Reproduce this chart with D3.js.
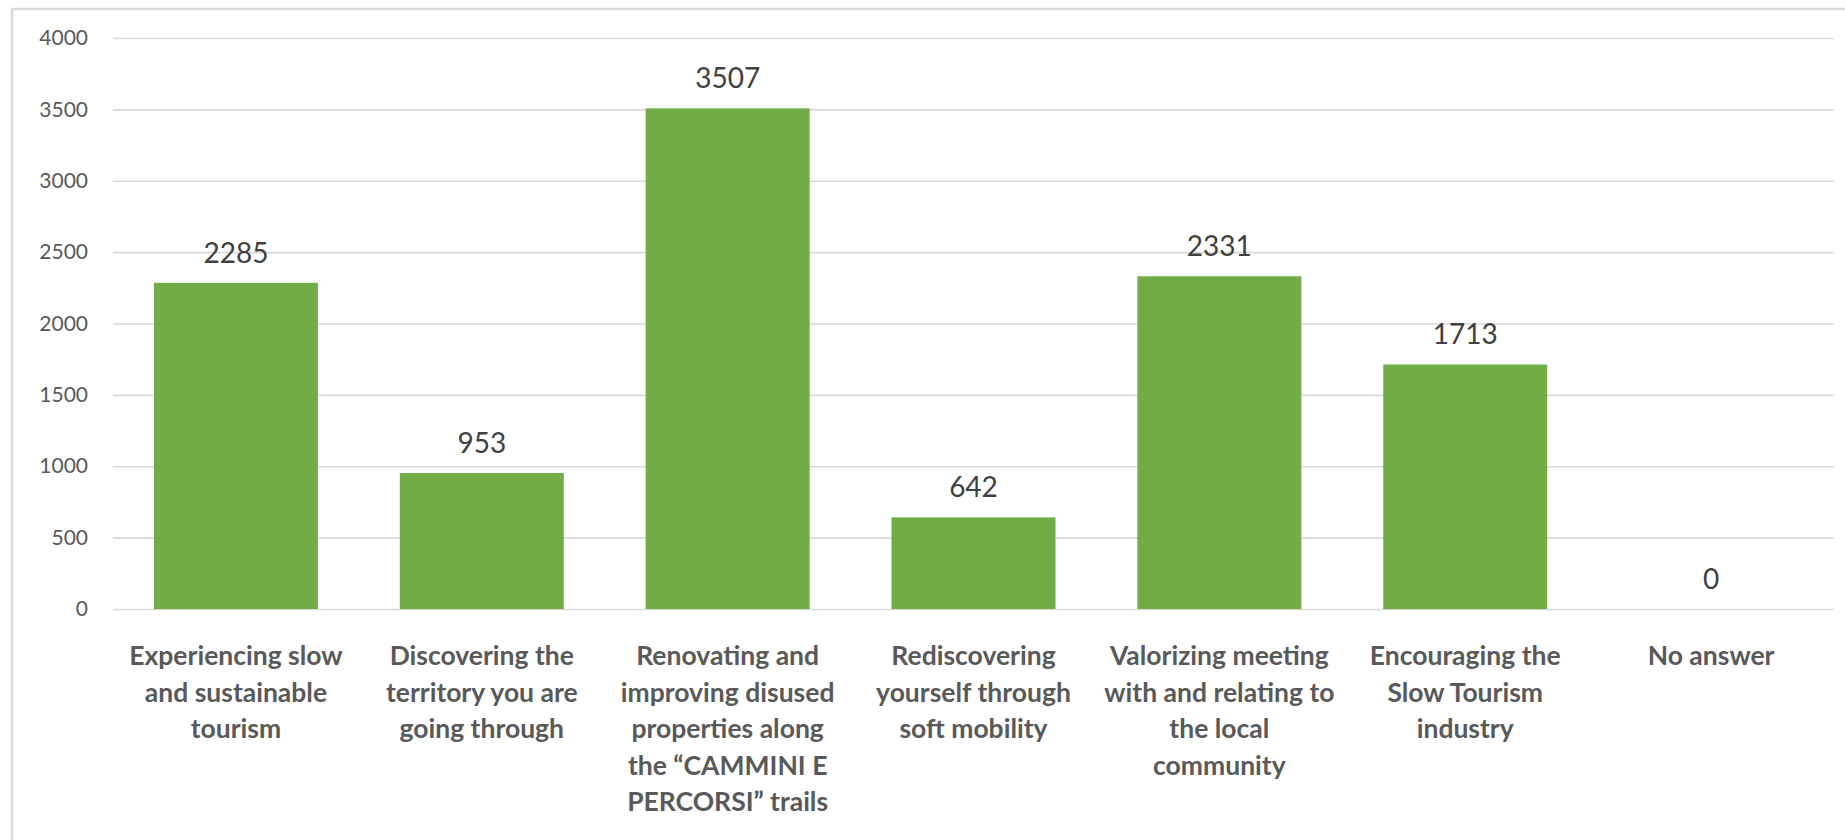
<!DOCTYPE html>
<html>
<head>
<meta charset="utf-8">
<script src="https://cdn.jsdelivr.net/npm/d3@7"></script>
<style>
  html, body { margin: 0; padding: 0; background: #fff; }
  svg { display: block; }
</style>
</head>
<body>
<svg id="chart" width="1845" height="840"></svg>
<script>
// Responses per motivation
const categories = [
  "Experiencing slow\nand sustainable\ntourism",
  "Discovering the\nterritory you are\ngoing through",
  "Renovating and\nimproving disused\nproperties along\nthe \u201CCAMMINI E\nPERCORSI\u201D trails",
  "Rediscovering\nyourself through\nsoft mobility",
  "Valorizing meeting\nwith and relating to\nthe local\ncommunity",
  "Encouraging the\nSlow Tourism\nindustry",
  "No answer"
];
const values = [2285, 953, 3507, 642, 2331, 1713, 0];
const yTicks = [0, 500, 1000, 1500, 2000, 2500, 3000, 3500, 4000];

const W = 1845, H = 840;
const plot = { left: 113, right: 1834, top: 38, bottom: 609 };
const FONT = "Lato, 'Open Sans', sans-serif";

const svg = d3.select("#chart");

// Outer frame (cut off at right and bottom)
svg.append("path")
  .attr("d", `M12,${H + 2}V9H${W + 2}`)
  .attr("fill", "none")
  .attr("stroke", "#d9d9d9")
  .attr("stroke-width", 2.5);

const x = d3.scaleBand()
  .domain(categories)
  .range([plot.left, plot.right])
  .paddingInner(0.333)
  .paddingOuter(0.1665);

const y = d3.scaleLinear()
  .domain([0, 4000])
  .range([plot.bottom, plot.top]);

// Horizontal gridlines + tick labels
const yAxis = d3.axisLeft(y)
  .tickValues(yTicks)
  .tickFormat(d3.format("d"))
  .tickSize(-(plot.right - plot.left))
  .tickPadding(25);

const gy = svg.append("g")
  .attr("transform", `translate(${plot.left},0)`)
  .call(yAxis);
gy.select(".domain").remove();
gy.selectAll(".tick line")
  .attr("stroke", "#d9d9d9")
  .attr("stroke-width", 1.6);
gy.selectAll(".tick text")
  .attr("fill", "#595959")
  .style("font-family", FONT)
  .style("font-size", "21px");

// Bars
svg.append("g")
  .selectAll("rect")
  .data(values)
  .join("rect")
  .attr("x", (d, i) => x(categories[i]))
  .attr("width", x.bandwidth())
  .attr("y", d => y(d))
  .attr("height", d => y(0) - y(d))
  .attr("fill", "#70ad47");

// Value labels
svg.append("g")
  .selectAll("text")
  .data(values)
  .join("text")
  .attr("x", (d, i) => x(categories[i]) + x.bandwidth() / 2)
  .attr("y", d => y(d) - 20)
  .attr("text-anchor", "middle")
  .attr("fill", "#404040")
  .style("font-family", FONT)
  .style("font-size", "28px")
  .text(d => d);

// Category labels (bottom axis)
const xAxis = d3.axisBottom(x).tickSize(0).tickFormat("");
const gx = svg.append("g")
  .attr("transform", `translate(0,${plot.bottom})`)
  .call(xAxis);
gx.select(".domain").remove();
gx.selectAll(".tick").each(function (d) {
  const t = d3.select(this).append("text")
    .attr("text-anchor", "middle")
    .attr("fill", "#595959")
    .style("font-family", FONT)
    .style("font-weight", "bold")
    .style("font-size", "26.5px");
  d.split("\n").forEach((line, i) => {
    t.append("tspan")
      .attr("x", 0)
      .attr("y", 56 + i * 36.5)
      .text(line);
  });
});
</script>
</body>
</html>
